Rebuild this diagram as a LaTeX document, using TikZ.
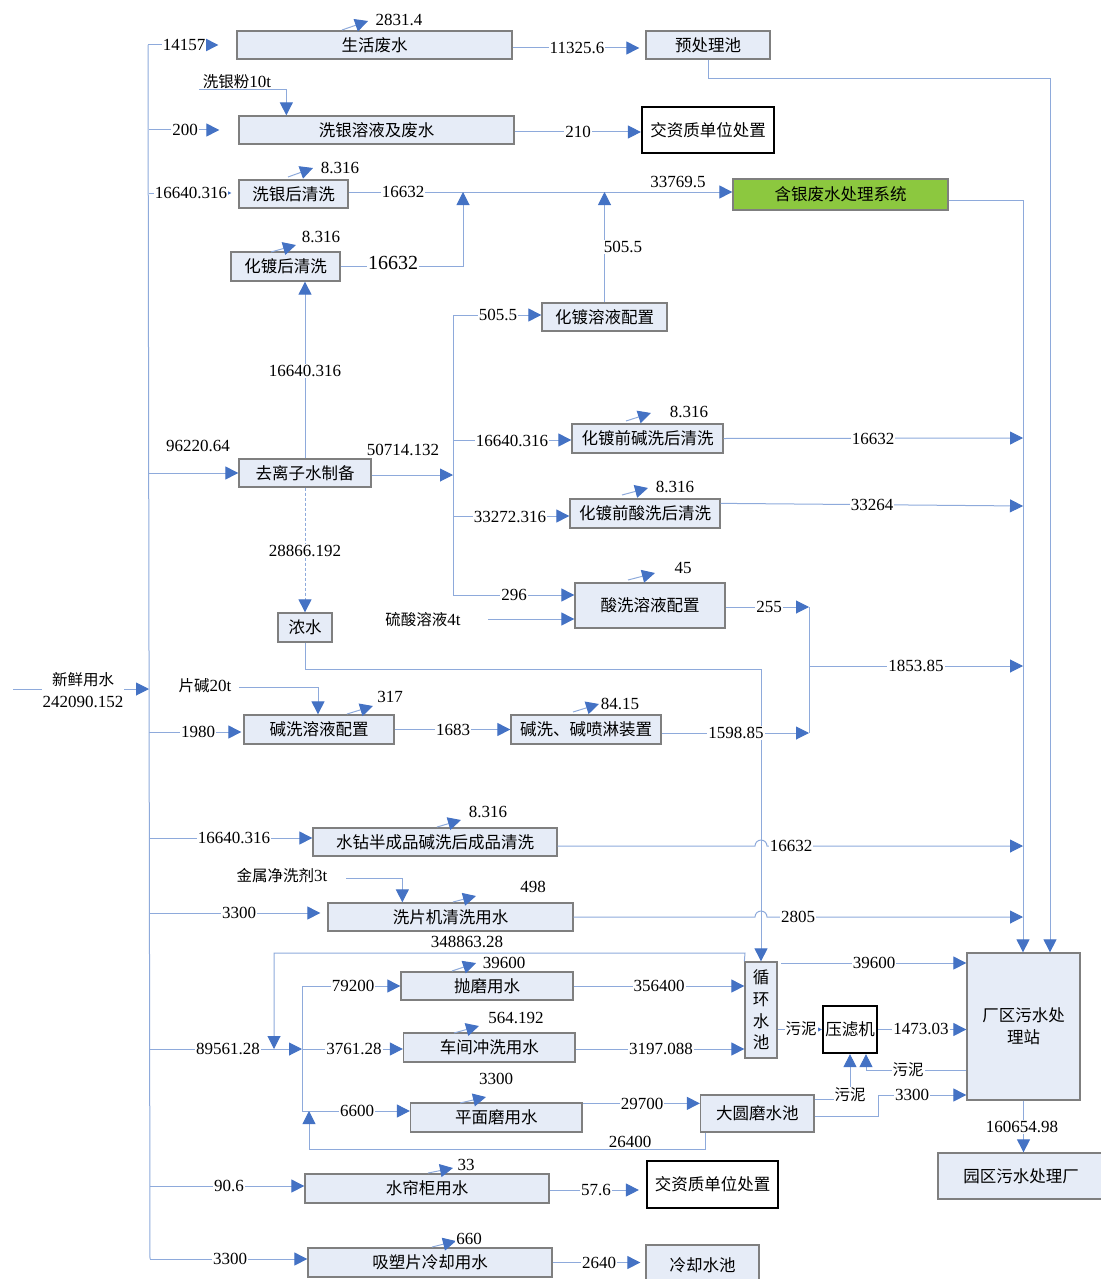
\documentclass[tikz,border=0pt]{standalone}
\usepackage{fontspec}
\setmainfont{Liberation Serif}
\newfontfamily\cjk{Noto Sans CJK SC}
\usetikzlibrary{arrows.meta,calc}
\definecolor{lnblue}{HTML}{8EAADB}
\definecolor{arblue}{HTML}{4472C4}
\definecolor{boxfill}{HTML}{E6ECF7}
\definecolor{boxline}{HTML}{7F7F7F}
\definecolor{agreen}{HTML}{8CC83F}
\newcommand\numf{\rmfamily\fontsize{17}{19}\selectfont}
\tikzset{
  box/.style 2 args={draw=boxline, fill=boxfill, line width=1.3pt, minimum width=#1pt, minimum height=#2pt, inner sep=0pt, font=\cjk\fontsize{16.5}{20}\selectfont},
  kbox/.style 2 args={box={#1}{#2}, draw=black, fill=white, line width=2.2pt},
  gbox/.style 2 args={box={#1}{#2}, fill=agreen},
  ln/.style={draw=lnblue, line width=1pt},
  ar/.style={ln, -{Triangle[length=13pt,width=13pt,color=arblue]}},
  sar/.style={ln, -{Triangle[length=6pt,width=6pt,color=arblue]}},
  num/.style={fill=white, inner sep=1pt, font=\numf},
  cn/.style={fill=white, inner sep=1pt, font=\cjk\fontsize{15.5}{18}\selectfont},
}
\begin{document}
\begin{tikzpicture}[x=1pt,y=-1pt]
\useasboundingbox (0,0) rectangle (1100,1279);
% ---------- boxes
\node[box={275}{28}] (shw) at (374.5,45) {生活废水};
\node[box={124}{28}] (ycl) at (708,45) {预处理池};
\node[box={275}{28}] (xyr) at (376.5,130) {洗银溶液及废水};
\node[kbox={132}{46}] (jz1) at (708,130) {交资质单位处置};
\node[box={109}{28}] (xhq) at (293.5,194) {洗银后清洗};
\node[gbox={215}{31}] (hyx) at (840.5,194.5) {含银废水处理系统};
\node[box={109}{29}] (hdh) at (285.5,266.5) {化镀后清洗};
\node[box={125}{28}] (hdr) at (604.5,317) {化镀溶液配置};
\node[box={132}{28}] (qlz) at (305,473) {去离子水制备};
\node[box={151}{29}] (hjq) at (647.5,438.5) {化镀前碱洗后清洗};
\node[box={150}{29}] (hsq) at (645,513.5) {化镀前酸洗后清洗};
\node[box={150}{45}] (sxr) at (650,605.5) {酸洗溶液配置};
\node[box={54}{29}] (ns) at (305,627.5) {浓水};
\node[box={150}{29}] (jxr) at (319,729.5) {碱洗溶液配置};
\node[box={150}{29}] (jpl) at (586,729.5) {碱洗、碱喷淋装置};
\node[box={244}{28}] (szb) at (435,842) {水钻半成品碱洗后成品清洗};
\node[box={245}{28}] (xpj) at (450.5,917) {洗片机清洗用水};
\node[box={172}{28}] (pm) at (487,986) {抛磨用水};
\node[box={32}{96}, align=center, font=\cjk\fontsize{16.5}{21.7}\selectfont] (xhc) at (761,1010) {循\\环\\水\\池};
\node[kbox={54}{47}] (ylj) at (850,1029.5) {压滤机};
\node[box={113}{147}, align=center, font=\cjk\fontsize{16.5}{22}\selectfont] (cq) at (1023.5,1026.5) {厂区污水处\\理站};
\node[box={171.5}{29}] (cj) at (489.25,1047.5) {车间冲洗用水};
\node[box={171.5}{29}] (pmm) at (496.25,1117.5) {平面磨用水};
\node[box={113.5}{37}] (dym) at (757.25,1113.5) {大圆磨水池};
\node[box={166}{46}] (yq) at (1021,1176) {园区污水处理厂};
\node[box={244}{29}] (slg) at (427,1188.5) {水帘柜用水};
\node[kbox={131}{47}] (jz2) at (712.5,1184.5) {交资质单位处置};
\node[box={244}{29}] (xsp) at (430,1262.5) {吸塑片冷却用水};
\node[box={113}{40}] (lqs) at (702.5,1265) {冷却水池};
% ---------- coordinates
\coordinate (T45) at (148,45);
\coordinate (T130) at (149,130);
\coordinate (T193) at (149,193);
\coordinate (T473) at (149,473);
\coordinate (T689) at (149,689);
\coordinate (T732) at (149,732);
\coordinate (T838) at (150,838);
\coordinate (T913) at (150,913);
\coordinate (T1049) at (150,1049);
\coordinate (T1186) at (150,1186);
\coordinate (T1259) at (150,1259);
\coordinate (FW) at (13,689);
\coordinate (r79) at (1050,79);
\coordinate (xys) at (199,90);
\coordinate (Y192) at (463,192);
\coordinate (D315) at (453,315);
\coordinate (D440) at (453,440);
\coordinate (D475) at (453,475);
\coordinate (D516) at (453,516);
\coordinate (D594) at (453,595);
\coordinate (SL) at (488,619);
\coordinate (R200) at (1023,200);
\coordinate (R438) at (1023,438);
\coordinate (R506) at (1023,506);
\coordinate (V607) at (809,607);
\coordinate (V666) at (809,666);
\coordinate (V733) at (809,733);
\coordinate (R666) at (1023,666);
\coordinate (N669) at (761,669);
\coordinate (PJ) at (318,687);
\coordinate (PJs) at (239,687);
\coordinate (JH) at (346,878);
\coordinate (H1) at (755,846);
\coordinate (R846) at (1023,846);
\coordinate (H2) at (755,917);
\coordinate (R917) at (1023,917);
\coordinate (K953) at (745,953);
\coordinate (K274) at (274,953);
\coordinate (J986) at (302,986);
\coordinate (J1049) at (302,1049);
\coordinate (J1111) at (302,1111);
\coordinate (X963) at (781,963);
\coordinate (Q1070) at (866,1070);
\coordinate (W1099) at (850,1099);
\coordinate (Z1116) at (878,1116);
\coordinate (Z1095) at (878,1095);
\coordinate (B1149) at (705,1149);
\coordinate (B309) at (309,1149);
% ---------- trunk and feeds
\draw[ln] (T45) -- (T1259);
\draw[ar] (FW) -- (T689);
\draw[ar, shorten >=18pt] (T45) -- (shw.west);
\draw[ar, shorten >=19pt] (T130) -- (xyr.west);
\draw[sar, shorten >=7pt] (T193) -- (T193 -| xhq.west);
\draw[ar] (T473) -- (qlz.west);
\draw[ar, shorten >=2pt] (T732) -- (T732 -| jxr.west);
\draw[ar] (T838) -- (T838 -| szb.west);
\draw[ar, shorten >=7pt] (T913) -- (T913 -| xpj.west);
\draw[ar] (T1049) -- (J1049);
\draw[ar] (T1186) -- (T1186 -| slg.west);
\draw[ar] (T1259) -- (T1259 -| xsp.west);
% ---------- evaporation arrows
\draw[ar] (342,30) coordinate (e1) -- ++(26,-9);
\draw[ar] (288,177) coordinate (e2) -- ++(25,-9);
\draw[ar] (271,252) coordinate (e3) -- ++(25,-7);
\draw[ar] (626,421) coordinate (e4) -- ++(25,-8);
\draw[ar] (622,495) coordinate (e5) -- ++(26,-7);
\draw[ar] (628,580) coordinate (e6) -- ++(27,-7);
\draw[ar] (347,714) coordinate (e7) -- ++(26,-8);
\draw[ar] (573,712) coordinate (e8) -- ++(26,-8);
\draw[ar] (437,827) coordinate (e9) -- ++(24,-7);
\draw[ar] (453,902) coordinate (e10) -- ++(23,-6);
\draw[ar] (452,971) coordinate (e11) -- ++(24,-8);
\draw[ar] (454,1033) coordinate (e12) -- ++(25,-7);
\draw[ar] (460,1103) coordinate (e13) -- ++(26,-6);
\draw[ar] (428,1173) coordinate (e14) -- ++(25,-5);
\draw[ar] (432,1247) coordinate (e15) -- ++(24,-6);
% ---------- upper flows
\draw[ar, shorten >=6pt] ($(shw.east)+(0,3)$) -- ($(ycl.west)+(0,3)$);
\draw[ar] (ycl.south) |- (r79) -- (r79 |- cq.north);
\draw[ar] (xys) -| ($(xyr.north west)+(48,0)$);
\draw[ar] ($(xyr.east)+(0,2)$) -- ($(jz1.west)+(0,2)$);
\draw[ar] (xhq.east |- Y192) -- (hyx.west |- Y192);
\draw[ar] (hdh.east) -| (Y192);
\draw[ar] (hdr.north) -- (hdr.north |- Y192);
\draw[ar] (hyx.east |- R200) -- (R200) -- (R200 |- cq.north);
\draw[ar] (qlz.north) -- (qlz.north |- hdh.south);
\draw[ar] ($(qlz.east)+(0,2)$) -- (D475);
\draw[ar, dash pattern=on 3pt off 2pt] (qlz.south) -- (ns.north);
\draw[ln] (D315) -- (D594);
\draw[ar] (D315) -- (D315 -| hdr.west);
\draw[ar] (D440) -- (D440 -| hjq.west);
\draw[ar] (D516) -- (D516 -| hsq.west);
\draw[ar] (D594) -- (D594 -| sxr.west);
\draw[ar] (SL) -- (SL -| sxr.west);
\draw[ar] (hjq.east) -- (R438);
\draw[ar] ($(hsq.north east)+(0,5)$) -- (R506);
\draw[ar] (sxr.east |- V607) -- (V607);
\draw[ln] (V607) -- (V733);
\draw[ar] (V666) -- (R666);
\draw[ar] (PJs) -| (PJ |- jxr.north);
\draw[ar] (jxr.east) -- (jpl.west);
\draw[ar] (jpl.east |- V733) -- (V733);
\draw[ar] (ns.south) |- (N669) -- (N669 |- xhc.north);
\draw[ar] (szb.east |- R846) -- (H1) arc[start angle=180, end angle=360, radius=6] -- (R846);
\draw[ar] (JH) -| ($(xpj.north west)+(75,0)$);
\draw[ar] (xpj.east |- R917) -- (H2) arc[start angle=180, end angle=360, radius=6] -- (R917);
% ---------- lower flows
\draw[ar] (xhc.north west) -- (K953) -- (K274) -- (K274 |- J1049);
\draw[ln] (J986) -- (J1111);
\draw[ar] (J986) -- (J986 -| pm.west);
\draw[ar] (J1049) -- (J1049 -| cj.west);
\draw[ar] (J1111) -- (J1111 -| pmm.west);
\draw[ar] (pm.east) -- (pm.east -| xhc.west);
\draw[ar] (cj.east |- J1049) -- (J1049 -| xhc.west);
\draw[ar] ($(pmm.north east)+(0,1)$) coordinate (p29) -- (p29 -| dym.west);
\draw[ar] (B1149 |- dym.south) -- (B1149) -- (B309) -- (B309 |- J1111);
\draw[ar] (X963) -- (X963 -| cq.west);
\draw[sar] (xhc.east |- ylj.west) -- (ylj.west);
\draw[ar] (ylj.east) -- (ylj.east -| cq.west);
\draw[ar] (cq.west |- Q1070) -- (Q1070) -- (Q1070 |- ylj.south);
\draw[ar] (dym.east |- W1099) -- (W1099) -- (W1099 |- ylj.south);
\draw[ar] (dym.east |- Z1116) -- (Z1116) -- (Z1095) -- (Z1095 -| cq.west);
\draw[ar] (cq.south) -- (cq.south |- yq.north);
\draw[ar, shorten >=7pt] ($(slg.east)+(0,1.5)$) -- ($(jz2.west)+(0,5.5)$);
\draw[ar, shorten >=5pt] (xsp.east) -- (xsp.east -| lqs.west);
% ---------- labels
\node[num] (l1) at (184,45) {14157};
\node[num] (l2) at (399,20) {2831.4};
\node[num] (l3) at (577,48) {11325.6};
\node[cn, fill=none] (l4) at (237,82) {洗银粉{\numf 10t}};
\node[num] (l5) at (185,130) {200};
\node[num] (l6) at (578,132) {210};
\node[num] (l7) at (191,193) {16640.316};
\node[num] (l8) at (340,168) {8.316};
\node[num] (l9) at (403,192) {16632};
\node[num, fill=none] (l10) at (678,182) {33769.5};
\node[num] (l11) at (321,237) {8.316};
\node[num, font=\rmfamily\fontsize{20}{22}\selectfont] (l12) at (393,263) {16632};
\node[num] (l13) at (623,247) {505.5};
\node[num] (l14) at (498,315) {505.5};
\node[num] (l15) at (305,371) {16640.316};
\node[num, fill=none] (l16) at (198,446) {96220.64};
\node[num, fill=none] (l17) at (403,450) {50714.132};
\node[num] (l18) at (689,412) {8.316};
\node[num] (l19) at (512,441) {16640.316};
\node[num] (l20) at (873,439) {16632};
\node[num] (l21) at (675,487) {8.316};
\node[num] (l22) at (510,517) {33272.316};
\node[num] (l23) at (872,505) {33264};
\node[num] (l24) at (305,551) {28866.192};
\node[num] (l25) at (683,568) {45};
\node[num] (l26) at (514,595) {296};
\node[cn] (l27) at (423,620) {硫酸溶液{\numf 4t}};
\node[num] (l28) at (769,607) {255};
\node[num] (l29) at (916,666) {1853.85};
\node[num, align=center] (l30) at (83,690) {{\cjk\fontsize{15.5}{18}\selectfont 新鲜用水}\\[3pt]242090.152};
\node[cn, fill=none] (l31) at (205,686) {片碱{\numf 20t}};
\node[num] (l32) at (390,697) {317};
\node[num] (l33) at (198,732) {1980};
\node[num] (l34) at (453,730) {1683};
\node[num] (l35) at (620,704) {84.15};
\node[num] (l36) at (736,733) {1598.85};
\node[num] (l37) at (488,812) {8.316};
\node[num] (l38) at (234,838) {16640.316};
\node[num] (l39) at (791,846) {16632};
\node[cn, fill=none] (l40) at (282,876) {金属净洗剂{\numf 3t}};
\node[num] (l41) at (533,887) {498};
\node[num] (l42) at (239,913) {3300};
\node[num] (l43) at (798,917) {2805};
\node[num, fill=none] (l44) at (467,942) {348863.28};
\node[num] (l45) at (504,963) {39600};
\node[num] (l46) at (874,963) {39600};
\node[num] (l47) at (353,986) {79200};
\node[num] (l48) at (659,986) {356400};
\node[num] (l49) at (516,1018) {564.192};
\node[cn] (l50) at (801,1029) {污泥};
\node[num] (l51) at (921,1029) {1473.03};
\node[num] (l52) at (228,1049) {89561.28};
\node[num] (l53) at (354,1049) {3761.28};
\node[num] (l54) at (661,1049) {3197.088};
\node[cn] (l55) at (908,1070) {污泥};
\node[num] (l56) at (496,1079) {3300};
\node[cn] (l57) at (850,1095) {污泥};
\node[num] (l58) at (912,1095) {3300};
\node[num] (l59) at (642,1104) {29700};
\node[num] (l60) at (357,1111) {6600};
\node[num] (l61) at (1022,1127) {160654.98};
\node[num] (l62) at (630,1142) {26400};
\node[num] (l63) at (466,1165) {33};
\node[num] (l64) at (229,1186) {90.6};
\node[num] (l65) at (596,1190) {57.6};
\node[num] (l66) at (469,1239) {660};
\node[num] (l67) at (230,1259) {3300};
\node[num] (l68) at (599,1263) {2640};
\end{tikzpicture}
\end{document}
